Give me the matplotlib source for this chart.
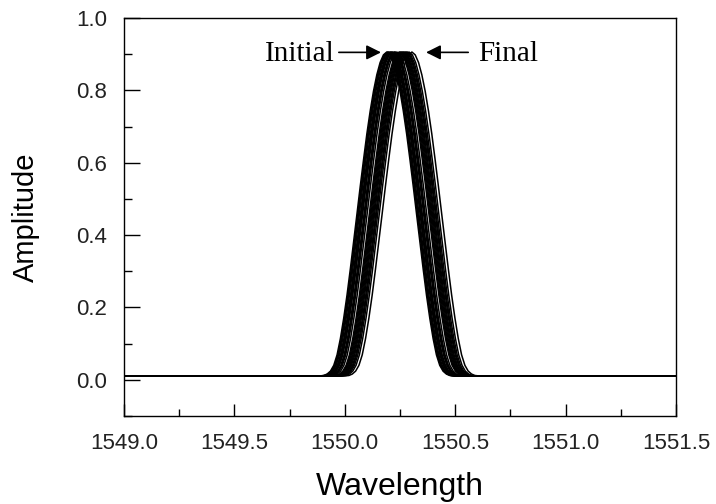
import matplotlib
matplotlib.use("Agg")
import matplotlib.pyplot as plt
from matplotlib.ticker import MultipleLocator

# peak profile: offset from peak centre (nm) -> amplitude
profile_offset = [-0.30, -0.285, -0.27, -0.255, -0.24, -0.225, -0.21, -0.195, -0.18,
                  -0.165, -0.15, -0.135, -0.12, -0.105, -0.09, -0.075, -0.06, -0.045,
                  -0.03, -0.015, 0.0, 0.015, 0.03, 0.045, 0.06, 0.075, 0.09, 0.105,
                  0.12, 0.135, 0.15, 0.165, 0.18, 0.195, 0.21, 0.225, 0.24, 0.255,
                  0.27, 0.285, 0.30]
profile_amp = [0.011, 0.012, 0.016, 0.024, 0.040, 0.069, 0.114, 0.170, 0.234,
               0.306, 0.382, 0.458, 0.535, 0.609, 0.680, 0.743, 0.798, 0.843,
               0.877, 0.898, 0.906, 0.898, 0.877, 0.843, 0.798, 0.743, 0.680, 0.609,
               0.535, 0.458, 0.382, 0.306, 0.234, 0.170, 0.114, 0.069, 0.040, 0.024,
               0.016, 0.012, 0.011]

# peak centre of each recorded spectrum, initial -> final
centres = [1550.190, 1550.194, 1550.197, 1550.201, 1550.206, 1550.209, 1550.213,
           1550.216, 1550.222, 1550.226, 1550.229, 1550.236, 1550.246, 1550.250,
           1550.254, 1550.258, 1550.262, 1550.266, 1550.270, 1550.275, 1550.279,
           1550.284, 1550.291, 1550.304]

baseline = 0.011
x_range = [1549.0, 1551.5]
x_ticks = [1549.0, 1549.5, 1550.0, 1550.5, 1551.0, 1551.5]
y_ticks = [0.0, 0.2, 0.4, 0.6, 0.8, 1.0]

fig = plt.figure(figsize=(7.16, 5.04), dpi=100)
ax = fig.add_axes([0.1732, 0.1746, 0.7709, 0.7897])

for c in centres:
    wl = [x_range[0]] + [c + d for d in profile_offset] + [x_range[1]]
    amp = [baseline] + profile_amp + [baseline]
    ax.plot(wl, amp, color="black", lw=1.1)

ax.set_xlim(x_range)
ax.set_ylim(-0.1, 1.0)
ax.xaxis.set_minor_locator(MultipleLocator(0.25))
ax.yaxis.set_minor_locator(MultipleLocator(0.1))
ax.set_xticks(x_ticks)
ax.set_xticklabels([f"{v:.1f}" for v in x_ticks], fontsize=16,
                   family="Liberation Sans", color="#222222")
ax.set_yticks(y_ticks)
ax.set_yticklabels([f"{v:.1f}" for v in y_ticks], fontsize=16,
                   family="Liberation Sans", color="#222222")

ax.tick_params(axis="x", which="major", direction="in", length=9, width=1, pad=12)
ax.tick_params(axis="x", which="minor", direction="in", length=4.8, width=1)
ax.tick_params(axis="y", which="major", direction="in", length=11.5, width=1, pad=12)
ax.tick_params(axis="y", which="minor", direction="in", length=5.8, width=1)
for sp in ax.spines.values():
    sp.set_linewidth(1.0)

ax.set_xlabel("Wavelength", fontsize=23, family="Liberation Sans", labelpad=13)
ax.set_ylabel("Amplitude", fontsize=21, family="Liberation Sans", labelpad=26)

arrow = dict(arrowstyle="-|>", color="black", lw=1.2, mutation_scale=22,
             shrinkA=0, shrinkB=0)
ax.annotate("", xy=(1550.164, 0.905), xytext=(1549.973, 0.905), arrowprops=arrow)
ax.annotate("", xy=(1550.368, 0.905), xytext=(1550.559, 0.905), arrowprops=arrow)
ax.text(1549.955, 0.9, "Initial", ha="right", va="center", fontsize=21,
        family="Liberation Serif")
ax.text(1550.605, 0.9, "Final", ha="left", va="center", fontsize=21,
        family="Liberation Serif")

fig.savefig("out.png", dpi=100)
